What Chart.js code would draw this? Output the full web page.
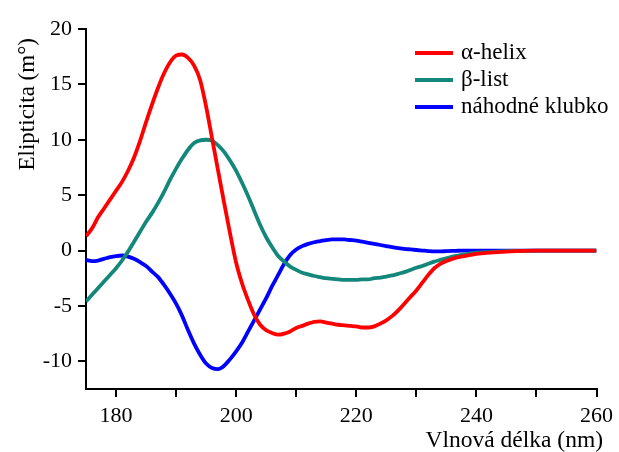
<!DOCTYPE html>
<html>
<head>
<meta charset="utf-8">
<script src="https://cdn.jsdelivr.net/npm/chart.js@4"></script>
<style>
html,body{margin:0;padding:0;background:#fff;}
#wrap{width:619px;height:452px;position:relative;}
</style>
</head>
<body>
<div id="wrap"><canvas id="c" width="619" height="452"></canvas></div>
<script>
const wavelengths = [175,176,177,178,179,180,181,182,183,184,185,186,187,188,189,190,191,192,193,194,195,196,197,198,199,200,201,202,203,204,205,206,207,208,209,210,211,212,213,214,215,216,217,218,219,220,221,222,223,224,225,226,227,228,229,230,231,232,233,234,235,236,237,238,239,240,245,250,255,260];

const alphaHelix = [1.3,2.0,3.0,3.8,4.6,5.4,6.2,7.2,8.4,9.9,11.6,13.2,14.7,16.0,17.0,17.6,17.7,17.4,16.7,15.4,13.0,10.1,7.2,4.3,1.5,-1.1,-3.0,-4.5,-5.8,-6.7,-7.2,-7.45,-7.6,-7.5,-7.3,-7.0,-6.8,-6.6,-6.45,-6.4,-6.5,-6.6,-6.7,-6.75,-6.8,-6.85,-6.95,-6.95,-6.85,-6.6,-6.3,-5.9,-5.4,-4.8,-4.2,-3.6,-2.9,-2.2,-1.6,-1.2,-0.95,-0.75,-0.6,-0.5,-0.4,-0.3,-0.1,0,0,0];

const betaList = [-4.6,-4.0,-3.4,-2.8,-2.2,-1.6,-0.9,-0.1,0.8,1.7,2.6,3.4,4.3,5.3,6.4,7.4,8.3,9.1,9.7,9.95,10.0,9.9,9.5,8.9,8.1,7.2,6.1,4.9,3.6,2.3,1.2,0.3,-0.5,-1.0,-1.45,-1.75,-2.0,-2.15,-2.3,-2.4,-2.5,-2.55,-2.6,-2.65,-2.65,-2.65,-2.6,-2.6,-2.5,-2.45,-2.35,-2.25,-2.1,-1.95,-1.75,-1.55,-1.4,-1.2,-1.0,-0.85,-0.7,-0.55,-0.45,-0.35,-0.25,-0.2,-0.05,0,0,0];

const randomCoil = [-0.85,-0.95,-0.9,-0.75,-0.6,-0.5,-0.45,-0.55,-0.75,-1.05,-1.4,-1.9,-2.4,-3.1,-3.9,-4.8,-5.9,-7.2,-8.4,-9.4,-10.2,-10.6,-10.7,-10.4,-9.8,-9.1,-8.3,-7.3,-6.3,-5.3,-4.3,-3.2,-2.2,-1.2,-0.4,0.1,0.4,0.6,0.75,0.85,0.95,1.0,1.0,1.0,0.95,0.9,0.8,0.7,0.6,0.5,0.4,0.3,0.22,0.15,0.1,0.05,0.0,-0.05,-0.08,-0.08,-0.05,-0.03,-0.02,0,0,0,0,0,0,0];

const seriesLabels = ['α-helix','β-list','náhodné klubko'];
const xTitle = 'Vlnová délka (nm)';
const yTitle = 'Elipticita (m°)';
const xTickLabels = [180,200,220,240,260];
const yTickValues = [-10,-5,0,5,10,15,20];

const colors = ['#ff0000','#14877b','#0000ff'];
const serif = "'Liberation Serif','Times New Roman',serif";

function toPoints(arr){ return wavelengths.map((w,i)=>({x:w,y:arr[i]})); }

const decorPlugin = {
  id:'decor',
  afterDraw(chart){
    const ctx = chart.ctx;
    ctx.save();
    // legend
    chart.data.datasets.forEach((ds,i)=>{
      const y = 53 + i*27;
      ctx.strokeStyle = ds.borderColor;
      ctx.lineWidth = 4;
      ctx.beginPath();
      ctx.moveTo(415,y);
      ctx.lineTo(453,y);
      ctx.stroke();
      ctx.fillStyle = '#000';
      ctx.font = "23px " + serif;
      ctx.textBaseline = 'alphabetic';
      ctx.textAlign = 'left';
      ctx.fillText(ds.label, 461, y + 6);
    });
    // axis titles
    ctx.fillStyle = '#000';
    ctx.font = "23.5px " + serif;
    ctx.textAlign = 'right';
    ctx.textBaseline = 'alphabetic';
    ctx.fillText(xTitle, 603, 447);
    ctx.translate(34, 38);
    ctx.rotate(-Math.PI/2);
    ctx.font = "23px " + serif;
    ctx.textAlign = 'right';
    ctx.fillText(yTitle, 0, 0);
    ctx.restore();
  }
};

new Chart(document.getElementById('c'), {
  type:'line',
  data:{
    datasets:[
      {label:seriesLabels[0], data:toPoints(alphaHelix), borderColor:colors[0]},
      {label:seriesLabels[1], data:toPoints(betaList), borderColor:colors[1]},
      {label:seriesLabels[2], data:toPoints(randomCoil), borderColor:colors[2]}
    ]
  },
  options:{
    responsive:false,
    animation:false,
    devicePixelRatio:1,
    layout:{padding:{top:29,right:21,left:0,bottom:0}},
    elements:{
      line:{borderWidth:3.8, cubicInterpolationMode:'monotone', fill:false},
      point:{radius:0}
    },
    plugins:{legend:{display:false}, tooltip:{enabled:false}},
    scales:{
      x:{
        type:'linear', min:175, max:260,
        afterFit(s){ s.height = 63; },
        border:{color:'#000', width:2},
        grid:{drawOnChartArea:false, drawTicks:true, tickLength:8, color:'#000', lineWidth:2},
        ticks:{
          stepSize:10, includeBounds:false, autoSkip:false, maxRotation:0,
          color:'#000', font:{family:serif, size:22}, padding:6,
          callback:(v)=> xTickLabels.includes(v) ? String(v) : ''
        },
        title:{display:false}
      },
      y:{
        type:'linear', min:-12.5, max:20,
        afterFit(s){ s.width = 86; },
        afterBuildTicks(s){ s.ticks = yTickValues.map(v=>({value:v})); },
        border:{color:'#000', width:2},
        grid:{drawOnChartArea:false, drawTicks:true, tickLength:8, color:'#000', lineWidth:2},
        ticks:{color:'#000', font:{family:serif, size:22}, padding:6},
        title:{display:false}
      }
    }
  },
  plugins:[decorPlugin]
});
</script>
</body>
</html>
